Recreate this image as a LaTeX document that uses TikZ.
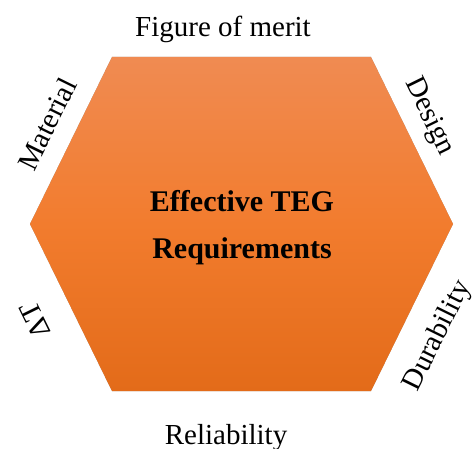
\documentclass[tikz,border=0pt]{standalone}
\usepackage{fontspec}
\setmainfont{Liberation Serif}
\definecolor{hextop}{RGB}{240,139,82}
\definecolor{hexmid}{RGB}{242,124,46}
\definecolor{hexbot}{RGB}{227,107,25}
\begin{document}
\begin{tikzpicture}[x=1pt,y=1pt,
  lbl/.style={font=\fontsize{29}{34}\selectfont, inner sep=0pt},
  ctr/.style={font=\fontsize{30}{47}\selectfont\bfseries, align=center, inner sep=0pt}]
\useasboundingbox (0,0) rectangle (472,448);
% corners
\coordinate (TL) at (112,391);
\coordinate (TR) at (371,391);
\coordinate (R) at (453,224);
\coordinate (BR) at (371,57);
\coordinate (BL) at (112,57);
\coordinate (L) at (30,224);
% soft shadow
\foreach \s/\o in {5/0.08,4/0.10,3/0.12,2/0.15}{
  \fill[black,opacity=\o,shift={(\s,-\s)}] (TL) -- (TR) -- (R) -- (BR) -- (BL) -- (L) -- cycle;
}
% hexagon
\shade[top color=hextop, bottom color=hexbot, middle color=hexmid]
  (TL) -- (TR) -- (R) -- (BR) -- (BL) -- (L) -- cycle;
% centre text
\node[ctr] (main) at (242,220) {Effective TEG\\Requirements};
% labels
\node[lbl, anchor=base] (fom) at (223,411) {Figure of merit};
\node[lbl, anchor=base] (rel) at (226,4) {Reliability};
\node[lbl, rotate=63.8] (mat) at (47,324) {Material};
\node[lbl, rotate=-63.8] (des) at (429,331) {Design};
\node[lbl, rotate=63.8] (dur) at (438,112) {Durability};
\node[lbl, rotate=116.2] (dt) at (35,128) {ΔT};
\end{tikzpicture}
\end{document}
